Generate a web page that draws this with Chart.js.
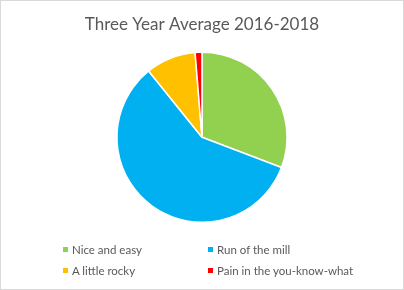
<!DOCTYPE html>
<html>
<head>
<meta charset="utf-8">
<script src="https://cdn.jsdelivr.net/npm/chart.js@4"></script>
<style>
    html, body { margin: 0; padding: 0; background: #fff; }
    .wrap { position: relative; width: 404px; height: 290px; }
    .wrap canvas { position: absolute; left: 0; top: 0; }
    .frame { position: absolute; left: 0; top: 0; width: 404px; height: 290px; box-sizing: border-box; border: 1px solid #d9d9d9; pointer-events: none; }
    .legend-item { position: absolute; font-family: Lato, sans-serif; font-size: 11.5px; color: #595959; line-height: 14px; white-space: nowrap; }
    .legend-box { display: inline-block; width: 5px; height: 5px; margin-right: 4px; vertical-align: 2px; }
</style>
</head>
<body>
<div class="wrap">
    <canvas id="pieChart" width="404" height="290"></canvas>
    <div id="legend"></div>
    <div class="frame"></div>
</div>
<script>
const categories = ['Nice and easy', 'Run of the mill', 'A little rocky', 'Pain in the you-know-what'];
const shares = [30.8, 58.4, 9.5, 1.3];
const sliceColors = ['#92D050', '#00B0F0', '#FFC000', '#FF0000'];

const ctx = document.getElementById('pieChart').getContext('2d');

const pieChart = new Chart(ctx, {
    type: 'pie',
    data: {
        labels: categories,
        datasets: [{
            data: shares,
            backgroundColor: sliceColors,
            borderColor: '#ffffff',
            borderWidth: 1.5
        }]
    },
    options: {
        responsive: false,
        animation: false,
        layout: {
            padding: { top: 0, bottom: 67, left: 0, right: 0 }
        },
        plugins: {
            legend: { display: false },
            tooltip: { enabled: false },
            title: {
                display: true,
                text: 'Three Year Average 2016-2018',
                color: '#595959',
                font: { family: 'Lato', size: 17, weight: 'normal' },
                padding: { top: 14, bottom: 17 }
            }
        }
    }
});

// legend laid out in two columns like the original
function renderLegend() {
    const legend = document.getElementById('legend');
    const cols = [63, 208];
    const rows = [243, 264];
    pieChart.data.labels.forEach((label, i) => {
        const item = document.createElement('div');
        item.className = 'legend-item';
        item.style.left = cols[i % 2] + 'px';
        item.style.top = rows[Math.floor(i / 2)] + 'px';
        item.innerHTML = `<span class="legend-box" style="background:${sliceColors[i]}"></span>${label}`;
        legend.appendChild(item);
    });
}

renderLegend();
</script>
</body>
</html>
